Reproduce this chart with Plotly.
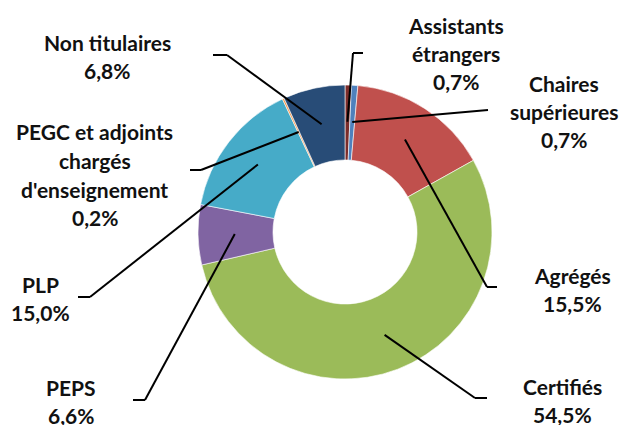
import math
import plotly.graph_objects as go

# Répartition des enseignants par corps (%)
categories = [
    "Assistants étrangers",
    "Chaires supérieures",
    "Agrégés",
    "Certifiés",
    "PEPS",
    "PLP",
    "PEGC et adjoints chargés d'enseignement",
    "Non titulaires",
]
values = [0.7, 0.7, 15.5, 54.5, 6.6, 15.0, 0.2, 6.8]
value_labels = ["0,7%", "0,7%", "15,5%", "54,5%", "6,6%", "15,0%", "0,2%", "6,8%"]
label_lines = [
    ["Assistants", "étrangers"],
    ["Chaires", "supérieures"],
    ["Agrégés"],
    ["Certifiés"],
    ["PEPS"],
    ["PLP"],
    ["PEGC et adjoints", "chargés", "d'enseignement"],
    ["Non titulaires"],
]
colors = ["#7B2C2A", "#4F81BD", "#C0504D", "#9BBB59",
          "#8064A2", "#46ABC8", "#F79646", "#284C77"]

W, H = 624, 425
CX, CY, R = 345, 232, 147          # donut centre and outer radius (px)
HOLE = 0.49

# label block placement: (centre x, first line centre y) in px
label_pos = [(456, 25), (564, 83), (572, 275), (562, 386),
             (71, 387), (40, 284), (95, 132), (107, 42)]
# leader line: elbow point and end point in px
leader_pts = [((353, 53), (363, 53)),
              ((488, 110), (488, 110)),
              ((487, 287), (497, 287)),
              ((475, 398), (487, 398)),
              ((145, 400), (133, 400)),
              ((90, 297), (78, 297)),
              ((201, 170), (190, 170)),
              ((227, 55), (213, 55))]
LINE_GAP = 28.5


def px(x):
    return x / W


def py(y):
    return 1 - y / H


fig = go.Figure(go.Pie(
    labels=categories,
    values=values,
    sort=False,
    direction="clockwise",
    rotation=0,
    hole=HOLE,
    marker=dict(colors=colors, line=dict(color="white", width=0.6)),
    textinfo="none",
    hoverinfo="label+percent",
    domain=dict(x=[px(CX - R), px(CX + R)], y=[py(CY + R), py(CY - R)]),
    showlegend=False,
))

font = dict(family="Lato", size=21, color="#111111", weight="bold")
annotations = []
shapes = []
total = sum(values)
cum = 0.0
for i, v in enumerate(values):
    mid = (cum + v / 2) / total * 2 * math.pi
    cum += v
    # start of leader inside the slice, along its mid-angle
    r0 = 0.75 * R
    sx = CX + r0 * math.sin(mid)
    sy = CY - r0 * math.cos(mid)
    (ex, ey), (tx, ty) = leader_pts[i]
    shapes.append(dict(type="line", xref="paper", yref="paper",
                       x0=px(sx), y0=py(sy), x1=px(ex), y1=py(ey),
                       line=dict(color="black", width=2)))
    if (ex, ey) != (tx, ty):
        shapes.append(dict(type="line", xref="paper", yref="paper",
                           x0=px(ex), y0=py(ey), x1=px(tx), y1=py(ty),
                           line=dict(color="black", width=2)))
    lx, ly = label_pos[i]
    for j, line in enumerate(label_lines[i] + [value_labels[i]]):
        annotations.append(dict(
            x=px(lx), y=py(ly + j * LINE_GAP), xref="paper", yref="paper",
            text=line, showarrow=False, xanchor="center", yanchor="middle",
            font=font))

fig.update_layout(
    width=W, height=H,
    margin=dict(l=0, r=0, t=0, b=0),
    paper_bgcolor="white",
    plot_bgcolor="white",
    annotations=annotations,
    shapes=shapes,
)

fig.write_html("out.html")
